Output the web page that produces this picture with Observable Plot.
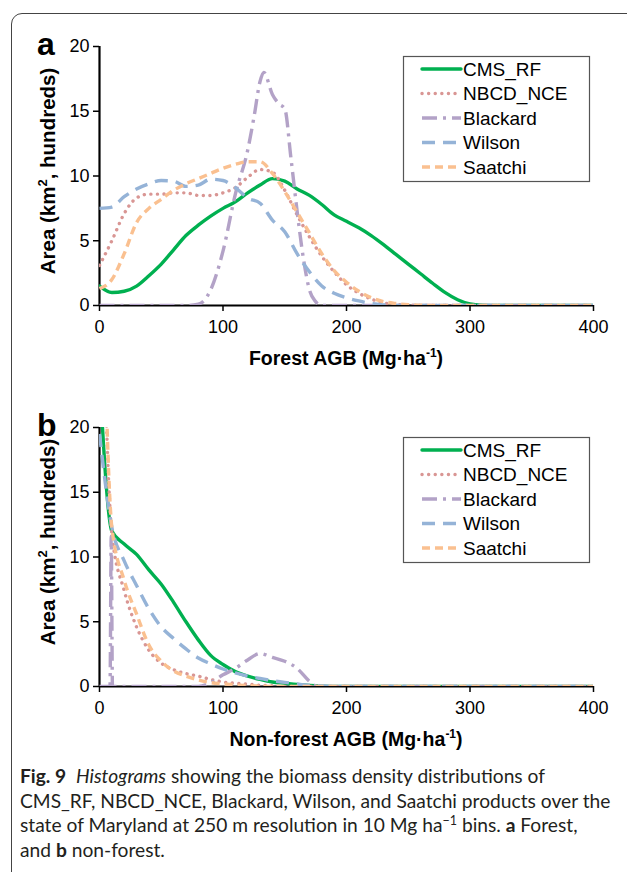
<!DOCTYPE html>
<html><head><meta charset="utf-8">
<script src="https://cdn.jsdelivr.net/npm/d3@7"></script>
<script src="https://cdn.jsdelivr.net/npm/@observablehq/plot@0.6"></script>
<style>
body{margin:0;width:627px;height:872px;overflow:hidden;background:#fff;position:relative;font-family:Arial,"Liberation Sans",sans-serif}
#frame{position:absolute;left:11px;top:13px;width:660px;height:880px;border:1px solid #444;border-radius:11px;box-sizing:border-box}
#pa{position:absolute;left:0;top:0}
#pb{position:absolute;left:0;top:381px}
#pa svg, #pb svg, #pa svg text, #pb svg text{font-family:Arial,"Liberation Sans",sans-serif !important}
#cap{position:absolute;left:20px;top:764px;font-family:Lato,sans-serif;font-size:19.2px;line-height:24.7px;color:#231f20;white-space:nowrap}
#cap sup{font-size:12.5px;line-height:0;vertical-align:7px}
</style></head><body>
<div id="frame"></div>
<div id="pa"></div><div id="pb"></div>
<div id="cap"><b>Fig. 9</b>&nbsp; <i>Histograms</i> showing the biomass density distributions of<br>CMS_RF, NBCD_NCE, Blackard, Wilson, and Saatchi products over the<br>state of Maryland at 250&nbsp;m resolution in 10&nbsp;Mg&nbsp;ha<sup>−1</sup> bins. <b>a</b> Forest,<br>and <b>b</b> non-forest.</div>
<script>
// ---------- data ----------
const seriesNames = ["CMS_RF", "NBCD_NCE", "Blackard", "Wilson", "Saatchi"];
const xTicks = [0, 100, 200, 300, 400];
const yTicks = [0, 5, 10, 15, 20];

// shared AGB grid (Mg/ha)
const agb = [0,10,20,30,40,50,60,70,80,90,100,110,120,130,140,150,160,170,180,190,200,210,220,230,240,250,260,270,280,290,300,310,320,400];

// (a) Forest, area in hundreds of km2
const forestCMS = [1.5,1.0,1.1,1.5,2.3,3.2,4.3,5.4,6.2,6.9,7.5,8.0,8.7,9.3,9.8,9.6,9.0,8.5,7.8,7.0,6.5,6.0,5.4,4.7,3.95,3.2,2.45,1.7,1.0,0.45,0.12,0.02,0,0];
const forestNBCD = [3.1,5.0,7.1,8.3,8.6,8.6,8.7,8.7,8.5,8.5,8.7,9.1,9.9,10.5,10.3,8.9,7.0,5.3,3.8,2.6,1.6,0.95,0.5,0.2,0.08,0.03,0,0,0,0,0,0,0,0];
const forestBlackardX = [0,60,70,80,90,100,110,120,125,130,133,140,145,150,155,160,165,170,175,180,400];
const forestBlackard = [0,0,0,0.1,1.2,4.2,8.6,12.0,14.5,17.3,18.0,16.3,15.6,15.2,11.4,7.3,3.7,1.2,0.3,0,0];
const forestWilson = [7.5,7.6,8.4,9.0,9.4,9.65,9.6,9.2,9.3,9.75,9.65,9.1,8.3,7.9,6.6,5.7,4.0,2.6,1.5,0.95,0.6,0.35,0.15,0.05,0,0,0,0,0,0,0,0,0,0];
const forestSaatchi = [1.3,2.0,4.0,6.4,7.5,8.2,8.9,9.4,9.8,10.2,10.6,10.9,11.1,11.1,10.2,8.8,7.2,5.6,4.0,2.7,1.8,1.1,0.6,0.3,0.15,0.06,0.02,0,0,0,0,0,0,0];

// (b) Non-forest
const nonCMS = [24,12.0,11.0,10.2,9.0,7.9,6.5,5.0,3.6,2.4,1.7,1.15,0.8,0.55,0.35,0.25,0.15,0.08,0.03,0,0,0,0,0,0,0,0,0,0,0,0,0,0,0];
const nonNBCD = [40,11.8,7.4,4.6,2.8,1.8,1.3,1.0,0.8,0.55,0.35,0.25,0.18,0.1,0.05,0,0,0,0,0,0,0,0,0,0,0,0,0,0,0,0,0,0,0];
const nonBlackardX = [0,8.5,9.5,10.5,20,80,90,100,110,120,130,140,150,160,170,175,180,400];
const nonBlackard = [0,0,11.6,0,0,0,0.3,0.9,1.4,2.05,2.55,2.25,1.95,1.4,0.4,0.05,0,0];
const nonWilson = [19.5,12.3,9.7,7.8,6.0,4.6,3.7,2.9,2.2,1.75,1.35,1.05,0.8,0.62,0.45,0.32,0.2,0.1,0.05,0,0,0,0,0,0,0,0,0,0,0,0,0,0,0];
const nonSaatchi = [44,12.3,8.2,5.6,3.2,1.95,1.2,0.8,0.5,0.3,0.2,0.12,0.07,0.03,0,0,0,0,0,0,0,0,0,0,0,0,0,0,0,0,0,0,0,0];

// ---------- styles ----------
const seriesColors = ["#00B050", "#D99694", "#B3A2C7", "#95B3D7", "#FAC090"];
const seriesDash = [null, "0.1 6.5", "15 6 3 6", "13 8", "8 5"];
const seriesCap = ["round", "round", "butt", "butt", "butt"];
const FONT = "Arial, 'Liberation Sans', sans-serif";

function rows(xs, ys) { return xs.map((x, i) => ({x, y: ys[i]})); }

function panel(el, seriesXs, seriesYs, xTitle, yTitleCenter, letter) {
  const W = 627, H = 380;
  const lines = seriesYs.map((ys, i) => Plot.line(rows(seriesXs[i], ys), {
    x: "x", y: "y", stroke: seriesColors[i], strokeWidth: 3.4,
    strokeDasharray: seriesDash[i], strokeLinecap: seriesCap[i],
    curve: "monotone-x", clip: true
  }));
  const p = Plot.plot({
    width: W, height: H,
    marginLeft: 99, marginRight: 34, marginTop: 46, marginBottom: 75,
    style: {fontFamily: FONT, background: "transparent", color: "#000"},
    x: {domain: [0, 400]},
    y: {domain: [0, 20]},
    marks: [
      Plot.axisX({ticks: xTicks, tickSize: 6, tickPadding: 9, fontSize: 18, label: null, strokeWidth: 1.5, tickFormat: d => String(d)}),
      Plot.axisY({ticks: yTicks, tickSize: 6, tickPadding: 4, fontSize: 18, label: null, strokeWidth: 1.5, tickFormat: d => String(d)}),
      Plot.ruleY([0], {stroke: "#000", strokeWidth: 2.2}),
      Plot.ruleX([0], {stroke: "#000", strokeWidth: 2.2}),
      ...lines
    ]
  });
  document.getElementById(el).appendChild(p);
  const svg = d3.select(p);
  // axis titles
  const xt = svg.append("text").attr("x", 346).attr("y", 365).attr("text-anchor", "middle")
    .attr("font-family", FONT).attr("font-weight", "bold").attr("font-size", 19.5);
  xt.append("tspan").text(xTitle + " (Mg·ha");
  xt.append("tspan").attr("font-size", 12).attr("dy", -8).text("-1");
  xt.append("tspan").attr("dy", 8).text(")");
  const yt = svg.append("text").attr("transform", `translate(55,${yTitleCenter}) rotate(-90)`)
    .attr("text-anchor", "middle").attr("font-family", FONT).attr("font-weight", "bold").attr("font-size", 20.5);
  yt.append("tspan").text("Area (km");
  yt.append("tspan").attr("font-size", 13).attr("dy", -8).text("2");
  yt.append("tspan").attr("dy", 8).text(", hundreds)");
  svg.append("text").attr("x", 37).attr("y", 55).attr("text-anchor", "start").attr("font-family", FONT)
    .attr("font-weight", "bold").attr("font-size", 32).text(letter);
  // legend
  const lg = svg.append("g");
  lg.append("rect").attr("x", 403.5).attr("y", 56.5).attr("width", 186).attr("height", 125)
    .attr("fill", "#fff").attr("stroke", "#555").attr("stroke-width", 1.2);
  seriesNames.forEach((n, i) => {
    const y = 69 + i * 24.5;
    lg.append("line").attr("x1", 422).attr("x2", 461).attr("y1", y).attr("y2", y)
      .attr("stroke", seriesColors[i]).attr("stroke-width", 3.4)
      .attr("stroke-dasharray", seriesDash[i]).attr("stroke-linecap", seriesCap[i]);
    lg.append("text").attr("x", 463).attr("y", y).attr("dy", "0.35em").attr("text-anchor", "start")
      .attr("font-family", FONT).attr("font-size", 19).text(n);
  });
}

panel("pa", [agb, agb, forestBlackardX, agb, agb],
  [forestCMS, forestNBCD, forestBlackard, forestWilson, forestSaatchi], "Forest AGB", 171, "a");
panel("pb", [agb, agb, nonBlackardX, agb, agb],
  [nonCMS, nonNBCD, nonBlackard, nonWilson, nonSaatchi], "Non-forest AGB", 161, "b");
</script>
</body></html>
